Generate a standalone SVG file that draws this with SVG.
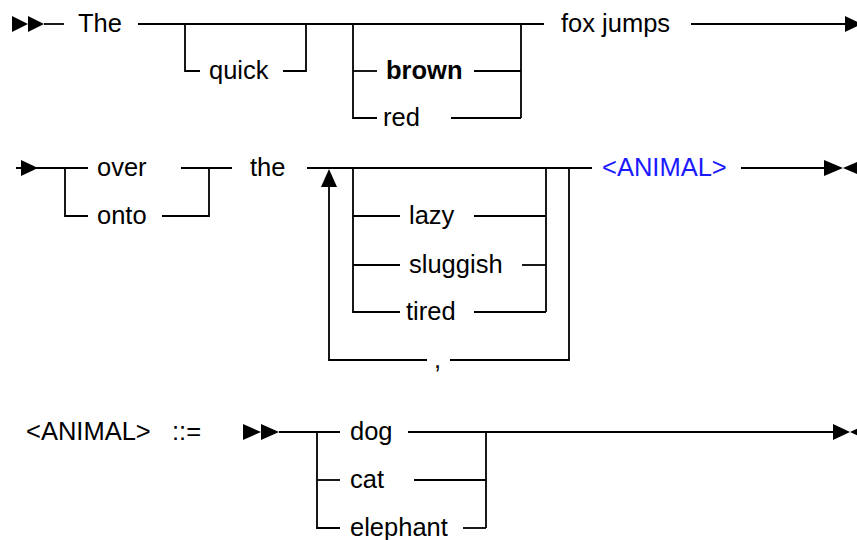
<svg xmlns="http://www.w3.org/2000/svg" width="857" height="540" viewBox="0 0 857 540">
<style>
text{font-family:"Liberation Sans",Arial,sans-serif;font-size:25.5px;fill:#000}
.b{font-weight:bold}
.nt{fill:#1a1aff}
.ln{fill:none;stroke:#000;stroke-width:1.8}
.ah{fill:#000}
</style>
<rect width="857" height="540" fill="#fff"/>
<g id="connectors">
<!-- row 1 -->
<polygon class="ah" points="12,16 28,24 12,32"/>
<polygon class="ah" points="28,16 44,24 28,32"/>
<path class="ln" d="M44,24 H64"/>
<path class="ln" d="M138,24 H544"/>
<path class="ln" d="M185,24 V71 H200"/>
<path class="ln" d="M283,71 H306 V24"/>
<path class="ln" d="M353,24 V118 H377"/>
<path class="ln" d="M353,71 H377"/>
<path class="ln" d="M474,71 H521"/>
<path class="ln" d="M451,118 H521"/>
<path class="ln" d="M521,24 V118"/>
<path class="ln" d="M691,24 H846"/>
<polygon class="ah" points="845,16 862,24 845,32"/>
<!-- row 2 -->
<path class="ln" d="M16,168 H88"/>
<polygon class="ah" points="21,160 38,168 21,176"/>
<path class="ln" d="M65,168 V216 H88"/>
<path class="ln" d="M181,168 H232"/>
<path class="ln" d="M162,216 H209 V168"/>
<path class="ln" d="M307,168 H592"/>
<path class="ln" d="M329,186 V360 H427"/>
<polygon class="ah" points="321,187 329,169 337,187"/>
<path class="ln" d="M450,360 H569 V168"/>
<path class="ln" d="M353,168 V312 H400"/>
<path class="ln" d="M353,216 H400"/>
<path class="ln" d="M353,265 H400"/>
<path class="ln" d="M474,216 H546"/>
<path class="ln" d="M522,265 H546"/>
<path class="ln" d="M474,312 H546"/>
<path class="ln" d="M546,168 V312"/>
<path class="ln" d="M741,168 H825"/>
<polygon class="ah" points="824,160 843,168 824,176"/>
<polygon class="ah" points="862,160 843,168 862,176"/>
<!-- row 3 -->
<polygon class="ah" points="243,424 261,432 243,440"/>
<polygon class="ah" points="261,424 279,432 261,440"/>
<path class="ln" d="M279,432 H340"/>
<path class="ln" d="M317,432 V528 H340"/>
<path class="ln" d="M317,480 H340"/>
<path class="ln" d="M408,432 H834"/>
<path class="ln" d="M414,480 H486"/>
<path class="ln" d="M463,528 H486"/>
<path class="ln" d="M486,432 V528"/>
<polygon class="ah" points="833,424 850,432 833,440"/>
<polygon class="ah" points="867,424 850,432 867,440"/>
</g>
<g id="n-the1"><text x="78" y="32">The</text></g>
<g id="n-quick"><text x="209" y="79">quick</text></g>
<g id="n-brown"><text class="b" x="386" y="79">brown</text></g>
<g id="n-red"><text x="383" y="126">red</text></g>
<g id="n-foxjumps"><text x="561" y="32">fox jumps</text></g>
<g id="n-over"><text x="97" y="176">over</text></g>
<g id="n-onto"><text x="97" y="224">onto</text></g>
<g id="n-the2"><text x="250" y="176">the</text></g>
<g id="n-lazy"><text x="409" y="224">lazy</text></g>
<g id="n-sluggish"><text x="409" y="273">sluggish</text></g>
<g id="n-tired"><text x="406" y="320">tired</text></g>
<g id="n-comma"><text x="434" y="368">,</text></g>
<g id="n-animal-ref"><text class="nt" x="602" y="176">&lt;ANIMAL&gt;</text></g>
<g id="n-animal-def"><text x="26" y="440">&lt;ANIMAL&gt;</text></g>
<g id="n-defsym"><text x="172" y="440">::=</text></g>
<g id="n-dog"><text x="350" y="440">dog</text></g>
<g id="n-cat"><text x="350" y="488">cat</text></g>
<g id="n-elephant"><text x="350" y="536">elephant</text></g>
</svg>
